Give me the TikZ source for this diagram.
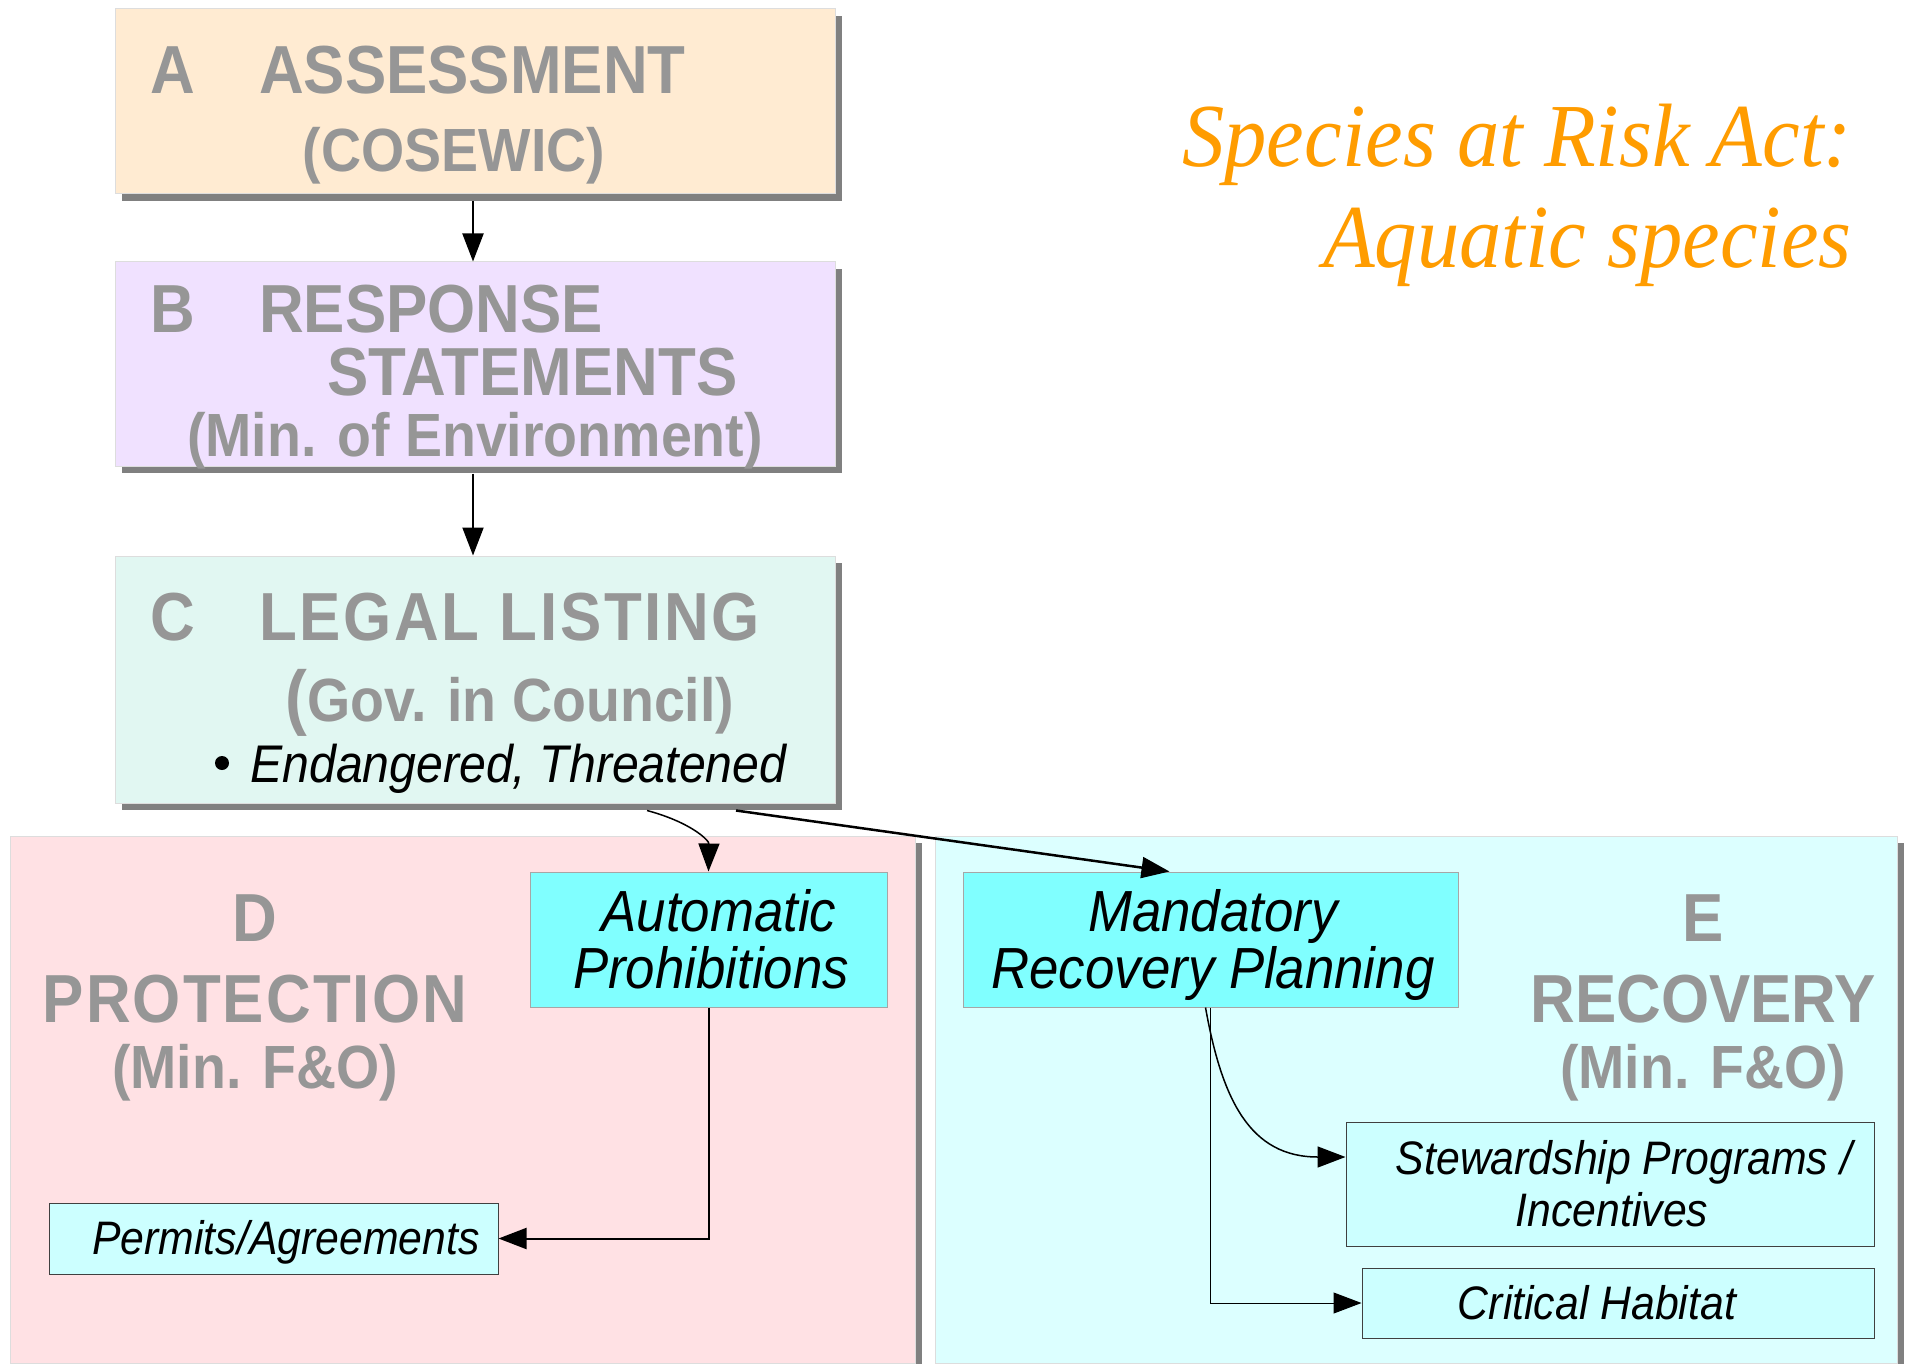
\documentclass[tikz,border=0pt]{standalone}
\usepackage{fontspec}
\setmainfont{Liberation Sans}
\newfontfamily\nar[FakeStretch=0.91]{Liberation Sans}
\newfontfamily\ttl[FakeStretch=0.94]{Liberation Serif}
\usetikzlibrary{arrows.meta,shadows}
\definecolor{cA}{HTML}{FFEBD2}
\definecolor{cB}{HTML}{F0E1FF}
\definecolor{cC}{HTML}{E1F7F2}
\definecolor{cD}{HTML}{FFE1E4}
\definecolor{cE}{HTML}{DCFFFF}
\definecolor{cyanbox}{HTML}{80FFFF}
\definecolor{lcyan}{HTML}{CCFFFF}
\definecolor{gtext}{HTML}{969696}
\definecolor{shc}{HTML}{808080}
\definecolor{orng}{HTML}{FF9C00}
\definecolor{pborder}{HTML}{DDDDDD}
\begin{document}
\begin{tikzpicture}[x=1pt,y=-1pt,
  panel/.style={rectangle, draw=pborder, line width=1pt, inner sep=0pt,
    drop shadow={shadow xshift=7pt, shadow yshift=-7pt, opacity=1, fill=shc}},
  hbox/.style={rectangle, draw=gray!70, line width=1pt, fill=cyanbox, inner sep=0pt},
  sbox/.style={rectangle, draw=black!75, line width=1pt, fill=lcyan, inner sep=0pt},
  big/.style={inner sep=0pt, text=gtext, font=\nar\bfseries\fontsize{68}{80}\selectfont},
  mid/.style={inner sep=0pt, text=gtext, font=\nar\bfseries\fontsize{61}{70}\selectfont},
  ital/.style={inner sep=0pt, text=black, font=\nar\itshape\fontsize{58}{66}\selectfont},
  sital/.style={inner sep=0pt, text=black, font=\nar\itshape\fontsize{47}{56}\selectfont},
  title/.style={inner sep=0pt, text=orng, font=\ttl\itshape\fontsize{90}{100}\selectfont},
  arr/.style={-{Triangle[length=28pt,width=21pt]}, line width=2pt, black}
]
\useasboundingbox (0,0) rectangle (1913,1364);
\fill[white] (0,0) rectangle (1913,1364);

% panels
\node[panel, fill=cA, minimum width=720pt, minimum height=185pt] (A) at (475,101.5) {};
\node[panel, fill=cB, minimum width=720pt, minimum height=204pt] (B) at (475,364) {};
\node[panel, fill=cC, minimum width=720pt, minimum height=247pt] (C) at (475,679.5) {};
\node[panel, fill=cD, minimum width=905pt, minimum height=527pt] (D) at (462.5,1099.5) {};
\node[panel, fill=cE, minimum width=962pt, minimum height=527pt] (E) at (1416,1099.5) {};

% A texts
\node[big, anchor=base west] (Aletter) at (150,94) {A};
\node[big, anchor=base west] (Atitle) at (259,94) {ASSESSMENT};
\node[mid, anchor=base] (Asub) at (454,172) {(COSEWIC)};
% B texts
\node[big, anchor=base west] (Bletter) at (150,332) {B};
\node[big, anchor=base west] (Btitle) at (259,332) {RESPONSE};
\node[big, anchor=base west] (Btitle2) at (327,395) {STATEMENTS};
\node[mid, anchor=base] (Bsub) at (475,456) {(Min. of Environment)};
% C texts
\node[big, anchor=base west] (Cletter) at (150,640) {C};
\node[big, anchor=base west] (Ctitle) at (259,640) {\addfontfeature{LetterSpace=4}LEGAL LISTING};
\node[mid, anchor=base] (Csub) at (510,721) {{\fontsize{72}{72}\selectfont(}Gov. in Council)};
\node[circle, fill=black, inner sep=0pt, minimum size=14pt] (Cdot) at (222,763) {};
\node[inner sep=0pt, anchor=base west, font=\nar\itshape\fontsize{53}{60}\selectfont] (Cbul) at (250,782) {Endangered, Threatened};

% D texts
\node[big, anchor=base] (Dletter) at (255,941) {D};
\node[big, anchor=base] (Dtitle) at (255,1022) {\addfontfeature{LetterSpace=3}PROTECTION};
\node[mid, anchor=base] (Dsub) at (255,1088) {(Min. F\&O)};
% E texts
\node[big, anchor=base] (Eletter) at (1703,941) {E};
\node[big, anchor=base] (Etitle) at (1703,1022) {RECOVERY};
\node[mid, anchor=base] (Esub) at (1703,1088) {(Min. F\&O)};

% inner boxes
\node[hbox, minimum width=357pt, minimum height=135pt] (auto) at (708.5,939.5) {};
\node[ital, anchor=base] (autoT1) at (719,931) {Automatic};
\node[ital, anchor=base] (autoT2) at (711,988) {Prohibitions};
\node[hbox, minimum width=495pt, minimum height=135pt] (mand) at (1210.5,939.5) {};
\node[ital, anchor=base] (mandT1) at (1213,931) {Mandatory};
\node[ital, anchor=base] (mandT2) at (1213,988) {Recovery Planning};
\node[sbox, minimum width=449pt, minimum height=71pt] (perm) at (273.5,1238.5) {};
\node[sital, anchor=base] (permT) at (286,1254) {Permits/Agreements};
\node[sbox, minimum width=528pt, minimum height=124pt] (stew) at (1610,1184) {};
\node[sital, anchor=base] (stewT1) at (1624,1174) {Stewardship Programs /};
\node[sital, anchor=base] (stewT2) at (1612,1226) {Incentives};
\node[sbox, minimum width=512pt, minimum height=70pt] (crit) at (1618,1303) {};
\node[sital, anchor=base] (critT) at (1597,1319) {Critical Habitat};

% title
\node[title, anchor=base east] (t1) at (1852,167) {Species at Risk Act:};
\node[title, anchor=base east] (t2) at (1852,268) {Aquatic species};

% connectors
\draw[arr] ([xshift=-2pt,yshift=-7pt]A.south) -- ([xshift=-2pt]B.north);
\draw[arr] ([xshift=-2pt,yshift=-7pt]B.south) -- ([xshift=-2pt]C.north);
\draw[arr, line width=1.5pt] ([xshift=172pt,yshift=-7pt]C.south) .. controls (690,822) and (709,840) .. (auto.north);
\draw[arr, line width=2.5pt] ([xshift=261pt,yshift=-7pt]C.south) -- ([xshift=-41pt]mand.north);
\draw[arr] (auto.south) |- (perm.east);
\draw[arr, line width=1.5pt] ([xshift=-5pt]mand.south) .. controls (1222,1100) and (1250,1157) .. ([yshift=27pt]stew.west);
\draw[arr, line width=1pt] (mand.south) |- (crit.west);
\end{tikzpicture}
\end{document}
